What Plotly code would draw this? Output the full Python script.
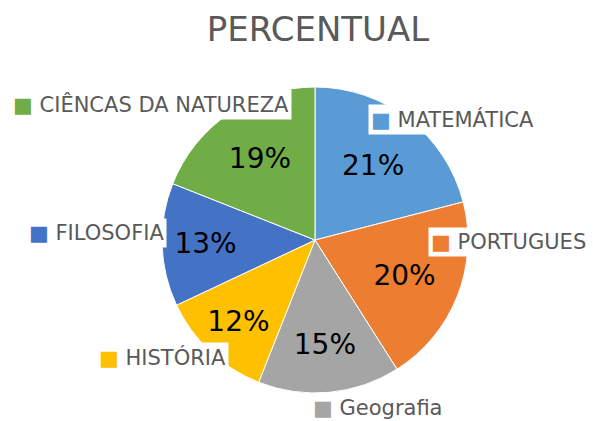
import plotly.graph_objects as go

labels = ["MATEMÁTICA", "PORTUGUES", "Geografia", "HISTÓRIA", "FILOSOFIA", "CIÊNCAS DA NATUREZA"]
values = [21, 20, 15, 12, 13, 19]
colors = ["#5B9BD5", "#ED7D31", "#A5A5A5", "#FFC000", "#4472C4", "#70AD47"]

W, H = 593, 421
cx, cy, r = 315, 240, 153

fig = go.Figure(go.Pie(
    labels=labels, values=values, sort=False, direction="clockwise", rotation=0,
    marker=dict(colors=colors, line=dict(color="white", width=1)),
    texttemplate="%{percent:.0%}", textposition="inside", insidetextorientation="horizontal",
    textfont=dict(family="DejaVu Sans", size=28, color="black"),
    domain=dict(x=[(cx - r) / W, (cx + r) / W], y=[1 - (cy + r) / H, 1 - (cy - r) / H]),
    showlegend=False, hoverinfo="label+percent",
))

# outside category labels (position in pixels: left x, center y)
label_pos = [(368, 119), (428, 242), (310, 408), (96, 357), (26, 233), (10, 105)]
for lab, col, (x, y) in zip(labels, colors, label_pos):
    fig.add_annotation(
        x=x / W, y=1 - y / H, xref="paper", yref="paper", xanchor="left", yanchor="middle",
        text=f"<span style='color:{col}'>■</span> {lab}", showarrow=False,
        font=dict(family="DejaVu Sans", size=21, color="#595959"),
        bgcolor="white", borderpad=2,
    )

fig.update_layout(
    width=W, height=H, margin=dict(l=0, r=0, t=0, b=0),
    paper_bgcolor="white", plot_bgcolor="white",
    title=dict(text="PERCENTUAL", x=318 / W, xanchor="center", y=1 - 29 / H, yanchor="middle",
               font=dict(family="DejaVu Sans", size=34, color="#595959")),
)
fig.write_html("out.html", config={"displayModeBar": False},
               post_script="document.body.style.margin='0';document.body.style.overflow='hidden';")
